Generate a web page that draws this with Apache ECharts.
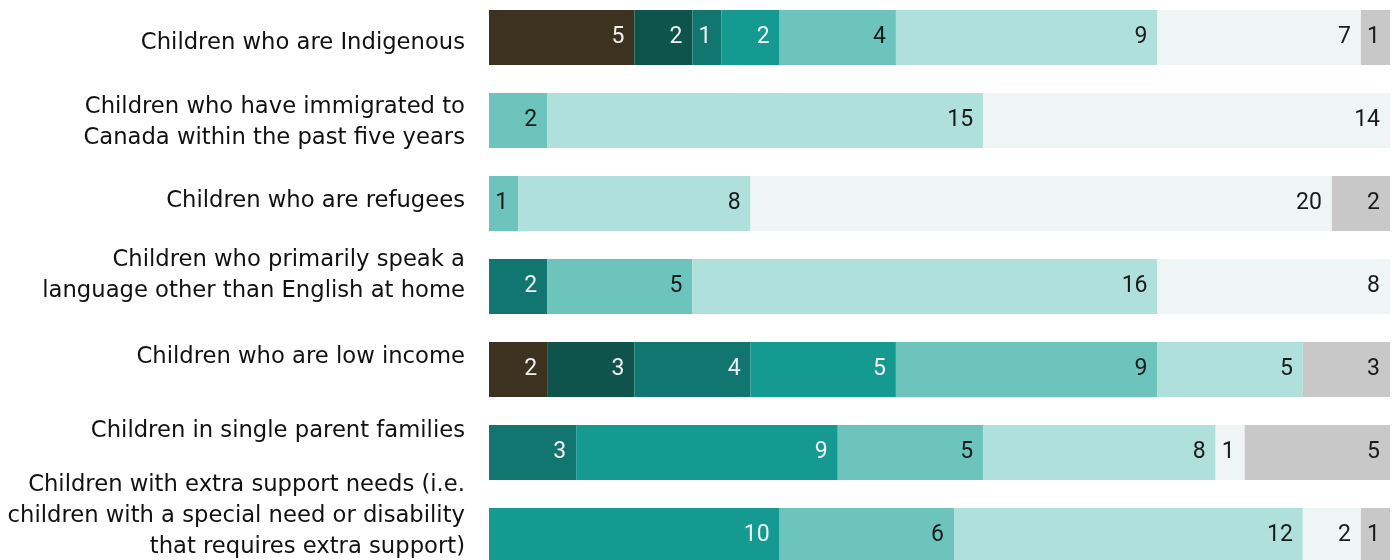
<!DOCTYPE html>
<html>
<head>
<meta charset="utf-8">
<script src="https://cdn.jsdelivr.net/npm/echarts@6/dist/echarts.min.js"></script>
<style>
  html, body { margin: 0; padding: 0; background: #ffffff; }
  #chart { width: 1396px; height: 560px; }
</style>
</head>
<body>
<div id="chart"></div>
<script>
// ---- Data ----
const categories = [
  "Children who are Indigenous",
  "Children who have immigrated to\nCanada within the past five years",
  "Children who are refugees",
  "Children who primarily speak a\nlanguage other than English at home",
  "Children who are low income",
  "Children in single parent families",
  "Children with extra support needs (i.e.\nchildren with a special need or disability\nthat requires extra support)"
];
const seriesNames = ["Series 1", "Series 2", "Series 3", "Series 4", "Series 5", "Series 6", "Series 7", "Series 8"];
const s1 = [5, 0, 0, 0, 2, 0, 0];
const s2 = [2, 0, 0, 0, 3, 0, 0];
const s3 = [1, 0, 0, 2, 4, 3, 0];
const s4 = [2, 0, 0, 0, 5, 9, 10];
const s5 = [4, 2, 1, 5, 9, 5, 6];
const s6 = [9, 15, 8, 16, 5, 8, 12];
const s7 = [7, 14, 20, 8, 0, 1, 2];
const s8 = [1, 0, 2, 0, 3, 5, 1];
const axisMax = 31;

// ---- Styles ----
const seriesValues = [s1, s2, s3, s4, s5, s6, s7, s8];
const colors = ["#3d3220", "#0f534d", "#10766f", "#159a92", "#6cc4bd", "#afe0dc", "#eef5f4", "#c8c8c8"];
const labelColors = ["#f0f0f0", "#f0f0f0", "#f0f0f0", "#f0f0f0", "#1a1a1a", "#1a1a1a", "#1a1a1a", "#1a1a1a"];
// vertical nudge of each category label relative to its bar (px, positive = down)
const labelShift = [6, 2, -2, -11, -12, -21, -19];

const chart = echarts.init(document.getElementById('chart'), null, { renderer: 'canvas' });

const rich = {};
labelShift.forEach((d, i) => {
  const h = Math.max(1, Math.abs(d) * 2);
  rich['sp' + i] = { fontSize: 1, lineHeight: h, height: h };
});

function labelFormatter(value, index) {
  const d = labelShift[index];
  if (!d) return value;
  const spacer = '{sp' + index + '| }';
  return d > 0 ? spacer + '\n' + value : value + '\n' + spacer;
}

const option = {
  backgroundColor: '#ffffff',
  animation: false,
  grid: { left: 489, top: -4, width: 901, height: 581, containLabel: false, outerBoundsMode: 'none' },
  xAxis: {
    type: 'value', min: 0, max: axisMax,
    show: false
  },
  yAxis: {
    type: 'category', inverse: true, data: categories,
    axisLine: { show: false }, axisTick: { show: false }, splitLine: { show: false },
    axisLabel: {
      interval: 0, hideOverlap: false,
      margin: 24, align: 'right', verticalAlign: 'middle',
      fontFamily: 'DejaVu Sans', fontSize: 22.7, lineHeight: 31, color: '#111111',
      formatter: labelFormatter,
      rich: rich
    }
  },
  series: seriesValues.map((vals, k) => ({
    name: seriesNames[k],
    type: 'bar', stack: 'total', barWidth: 55,
    data: vals,
    itemStyle: { color: colors[k] },
    label: {
      show: true, position: 'insideRight', distance: 10,
      fontFamily: 'Roboto', fontSize: 23, color: labelColors[k],
      formatter: p => (p.value ? String(p.value) : '')
    }
  }))
};
chart.setOption(option);
</script>
</body>
</html>
